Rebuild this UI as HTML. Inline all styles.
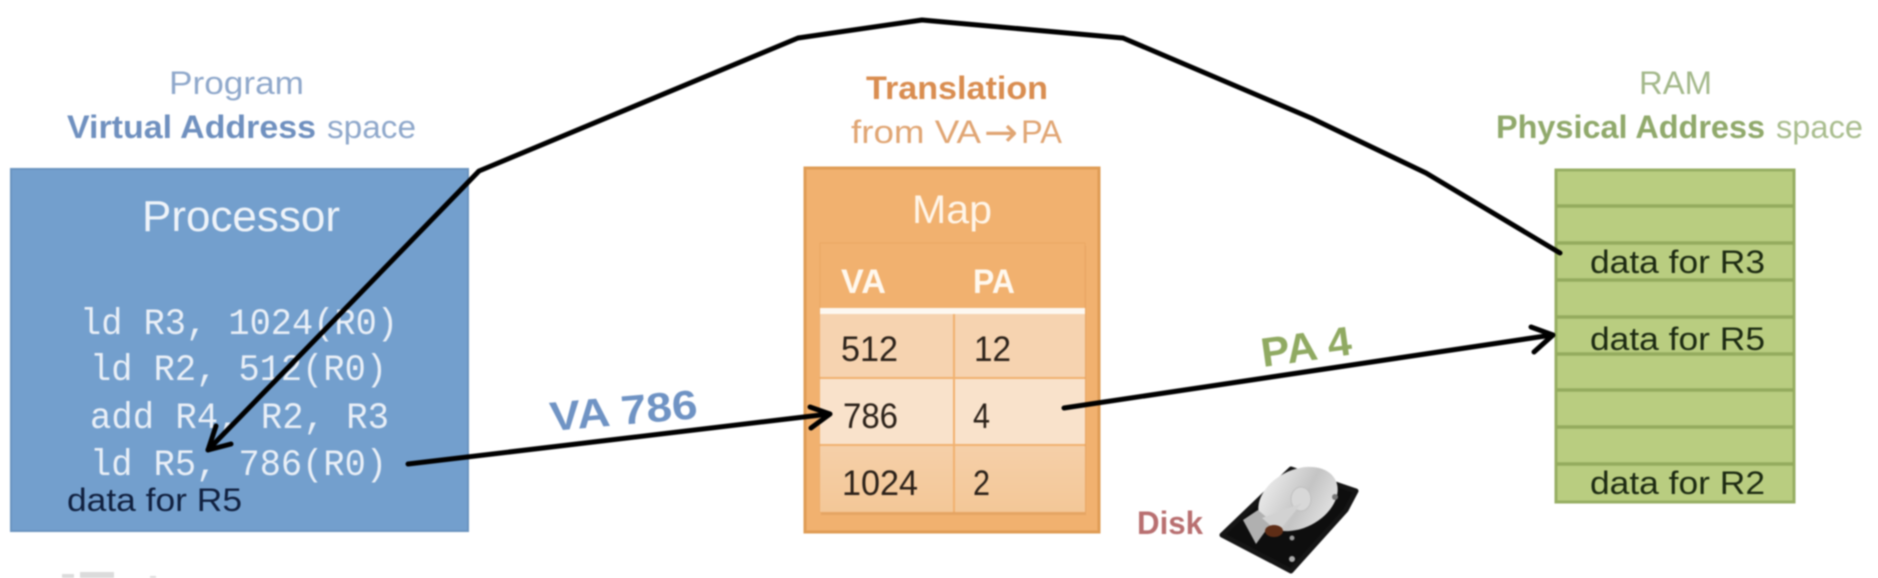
<!DOCTYPE html>
<html>
<head>
<meta charset="utf-8">
<style>
html,body{margin:0;padding:0;background:#fff;width:1878px;height:578px;overflow:hidden}
svg{display:block;filter:blur(0.7px)}
text{font-family:"Liberation Sans",sans-serif}
text.mono{font-family:"Liberation Mono",monospace}
text.arw{font-family:"DejaVu Sans",sans-serif}
</style>
</head>
<body>
<svg width="1878" height="578" viewBox="0 0 1878 578" xmlns="http://www.w3.org/2000/svg">
<defs>
<linearGradient id="plat" x1="0" y1="0" x2="1" y2="1"><stop offset="0" stop-color="#f4f4f4"/><stop offset=".55" stop-color="#c4c4c4"/><stop offset="1" stop-color="#ececec"/></linearGradient>
<linearGradient id="r3" x1="0" y1="0" x2="0" y2="1"><stop offset="0" stop-color="#f5cfa8"/><stop offset="1" stop-color="#f3c797"/></linearGradient>
</defs>

<!-- Titles left -->
<text x="169" y="94" font-size="32" fill="#8fa8cb" textLength="135" lengthAdjust="spacingAndGlyphs">Program</text>
<text x="67" y="138" font-size="32" font-weight="bold" fill="#6f90bf" textLength="249" lengthAdjust="spacingAndGlyphs">Virtual Address</text>
<text x="327" y="138" font-size="32" fill="#8fa8cb" textLength="89" lengthAdjust="spacingAndGlyphs">space</text>

<!-- Processor -->
<rect x="11" y="169" width="457" height="362" fill="#739fcd" stroke="#6a93bf" stroke-width="2"/>
<text x="142" y="231" font-size="44" fill="#eef3f9" textLength="198" lengthAdjust="spacingAndGlyphs">Processor</text>
<text class="mono" x="80" y="334" font-size="37" fill="#e9eff7" textLength="318" lengthAdjust="spacingAndGlyphs">ld R3, 1024(R0)</text>
<text class="mono" x="90" y="380" font-size="37" fill="#e9eff7" textLength="297" lengthAdjust="spacingAndGlyphs">ld R2, 512(R0)</text>
<text class="mono" x="90" y="428" font-size="37" fill="#e9eff7" textLength="299" lengthAdjust="spacingAndGlyphs">add R4, R2, R3</text>
<text class="mono" x="90" y="475" font-size="37" fill="#e9eff7" textLength="297" lengthAdjust="spacingAndGlyphs">ld R5, 786(R0)</text>
<text x="67" y="511" font-size="32" fill="#10203f" textLength="175" lengthAdjust="spacingAndGlyphs">data for R5</text>

<!-- Titles middle -->
<text x="866" y="99" font-size="32" font-weight="bold" fill="#d98d50" textLength="182" lengthAdjust="spacingAndGlyphs">Translation</text>
<text x="851" y="143" font-size="32" fill="#e0a573" textLength="130" lengthAdjust="spacingAndGlyphs">from VA</text>
<text class="arw" x="984" y="146" font-size="40" fill="#e0a573" textLength="34" lengthAdjust="spacingAndGlyphs">→</text>
<text x="1021" y="143" font-size="32" fill="#e0a573" textLength="41" lengthAdjust="spacingAndGlyphs">PA</text>

<!-- Map -->
<rect x="805" y="168" width="294" height="364" fill="#f1b16f" stroke="#df9c55" stroke-width="3"/>
<text x="912" y="223" font-size="40" fill="#fff5e8" textLength="80" lengthAdjust="spacingAndGlyphs">Map</text>
<rect x="821" y="246" width="265" height="269" fill="#d8985a" opacity=".5"/>
<rect x="820" y="243" width="265" height="269" fill="#f1b16f" stroke="#eba763" stroke-width="1"/>
<rect x="820" y="314" width="133" height="63" fill="#f6d3b0"/>
<rect x="955" y="314" width="130" height="63" fill="#f6d3b0"/>
<rect x="820" y="379" width="133" height="65" fill="#f9e2cb"/>
<rect x="955" y="379" width="130" height="65" fill="#f9e2cb"/>
<rect x="820" y="446" width="133" height="66" fill="url(#r3)"/>
<rect x="955" y="446" width="130" height="66" fill="url(#r3)"/>
<rect x="820" y="308" width="265" height="6" fill="#fdf8f1"/>
<text x="841" y="293" font-size="34" font-weight="bold" fill="#fff8ee" textLength="45" lengthAdjust="spacingAndGlyphs">VA</text>
<text x="973" y="293" font-size="34" font-weight="bold" fill="#fff8ee" textLength="42" lengthAdjust="spacingAndGlyphs">PA</text>
<g font-size="35" fill="#2b2119">
<text x="841" y="361" textLength="57" lengthAdjust="spacingAndGlyphs">512</text>
<text x="974" y="361" textLength="37" lengthAdjust="spacingAndGlyphs">12</text>
<text x="843" y="428" textLength="55" lengthAdjust="spacingAndGlyphs">786</text>
<text x="973" y="428" textLength="17" lengthAdjust="spacingAndGlyphs">4</text>
<text x="842" y="495" textLength="76" lengthAdjust="spacingAndGlyphs">1024</text>
<text x="973" y="495" textLength="17" lengthAdjust="spacingAndGlyphs">2</text>
</g>

<!-- Titles right -->
<text x="1639" y="94" font-size="32" fill="#a3b88a" textLength="73" lengthAdjust="spacingAndGlyphs">RAM</text>
<text x="1496" y="138" font-size="32" font-weight="bold" fill="#90a96b" textLength="269" lengthAdjust="spacingAndGlyphs">Physical Address</text>
<text x="1776" y="138" font-size="32" fill="#a9bd8e" textLength="87" lengthAdjust="spacingAndGlyphs">space</text>

<!-- RAM -->
<rect x="1556" y="170" width="238" height="332" fill="#b9cd80" stroke="#97ae63" stroke-width="3"/>
<g stroke="#93ab5e" stroke-width="3.5">
<line x1="1556" x2="1794" y1="206" y2="206"/>
<line x1="1556" x2="1794" y1="243" y2="243"/>
<line x1="1556" x2="1794" y1="280" y2="280"/>
<line x1="1556" x2="1794" y1="317" y2="317"/>
<line x1="1556" x2="1794" y1="354" y2="354"/>
<line x1="1556" x2="1794" y1="390" y2="390"/>
<line x1="1556" x2="1794" y1="427" y2="427"/>
<line x1="1556" x2="1794" y1="464" y2="464"/>
</g>
<g font-size="32" fill="#1c2a12">
<text x="1590" y="273" textLength="175" lengthAdjust="spacingAndGlyphs">data for R3</text>
<text x="1590" y="350" textLength="175" lengthAdjust="spacingAndGlyphs">data for R5</text>
<text x="1590" y="494" textLength="175" lengthAdjust="spacingAndGlyphs">data for R2</text>
</g>

<!-- Rotated labels -->
<text transform="translate(551,431) rotate(-5)" font-size="41" font-weight="bold" fill="#6f93c4" textLength="148" lengthAdjust="spacingAndGlyphs">VA 786</text>
<text transform="translate(1263,367) rotate(-8)" font-size="41" font-weight="bold" fill="#90aa62" textLength="91" lengthAdjust="spacingAndGlyphs">PA 4</text>

<!-- Disk -->
<text x="1137" y="534" font-size="32" font-weight="bold" fill="#b86f70" textLength="66" lengthAdjust="spacingAndGlyphs">Disk</text>
<polygon points="1222,535 1291,469 1356,491 1346,510 1291,571" fill="#0e0e0e" stroke="#151515" stroke-width="5" stroke-linejoin="round"/>
<ellipse cx="1298" cy="499" rx="42" ry="29" transform="rotate(-27 1298 499)" fill="url(#plat)"/>
<ellipse cx="1301" cy="499" rx="10" ry="12" fill="#d8d8d8" stroke="#c0c0c0"/>
<polygon points="1243,520 1258,510 1272,522 1256,544" fill="#b0b0b0"/>
<polygon points="1262,518 1302,503 1278,532" fill="#d2d2d2"/>
<ellipse cx="1274" cy="531" rx="9" ry="6" fill="#5e2d16"/>
<circle cx="1292" cy="559" r="3" fill="#aaa"/><circle cx="1335" cy="497" r="3" fill="#777"/><circle cx="1292" cy="538" r="2.5" fill="#999"/>

<!-- Connectors -->
<g fill="none" stroke="#000" stroke-width="5" stroke-linejoin="round" stroke-linecap="round">
<polyline points="1560,253 1426,173 1311,118 1123,38 922,20 798,38 479,171 208,450"/>
<polyline points="231,444 208,450 216,426"/>
<line x1="408" y1="464" x2="829" y2="414"/>
<polyline points="810,407 830,414 811,428"/>
<line x1="1064" y1="408" x2="1552" y2="335"/>
<polyline points="1531,327 1553,335 1534,352"/>
</g>

<!-- faint bottom-left artefact -->
<g fill="#ccc" opacity=".7">
<rect x="62" y="574" width="12" height="4"/>
<rect x="80" y="572" width="34" height="6"/>
<rect x="150" y="576" width="6" height="2"/>
</g>
</svg>
</body>
</html>
